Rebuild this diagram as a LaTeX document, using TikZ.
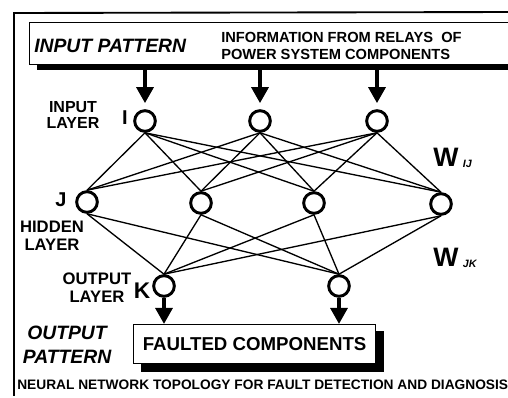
\documentclass[tikz,border=0pt]{standalone}
\usepackage{fontspec}
\setmainfont{Liberation Sans}
\usetikzlibrary{arrows.meta}
\begin{document}
\begin{tikzpicture}[x=0.75pt,y=-0.75pt,
  neuron/.style={circle,draw,line width=2.2pt,minimum size=15.5pt,inner sep=0pt},
  link/.style={line width=1pt},
  bigarrow/.style={line width=3pt,-{Triangle[length=12pt,width=12.5pt]}},
  lbl/.style={font=\bfseries\fontsize{12.5}{13.5}\selectfont,align=center,inner sep=0pt},
  letter/.style={font=\bfseries\fontsize{15}{15}\selectfont,inner sep=0pt},
  pattern/.style={font=\bfseries\itshape\fontsize{14.5}{18}\selectfont,inner sep=0pt},
  wlbl/.style={font=\bfseries\fontsize{20}{20}\selectfont,inner sep=0pt},
  boxstyle/.style={draw,line width=0.9pt,fill=white,inner sep=0pt}]
\useasboundingbox (0,0) rectangle (508,398);
\fill[white] (0,0) rectangle (508,398);
\clip (0,0) rectangle (508,398);
% outer frame
\draw[line width=1.4pt] (14,396) -- (14,13) -- (520,12);
% input pattern box
\fill (37,63) rectangle (520,70);
\node[boxstyle,anchor=north west,minimum width=380pt,minimum height=31.5pt] (inbox) at (29,22) {};
\coordinate (shb) at (0,68);
\node[pattern,anchor=west] (ip) at (34,46) {INPUT PATTERN};
\node[font=\bfseries\fontsize{11}{12.75}\selectfont,align=left,anchor=west,inner sep=0pt] (info) at (221,46) {INFORMATION FROM RELAYS\ \ OF\\POWER SYSTEM COMPONENTS};
% neurons
\node[neuron] (i1) at (145,121) {};
\node[neuron] (i2) at (260,121) {};
\node[neuron] (i3) at (377,121) {};
\node[neuron] (h1) at (87,202) {};
\node[neuron] (h2) at (201,203) {};
\node[neuron] (h3) at (314,203) {};
\node[neuron] (h4) at (441,204) {};
\node[neuron] (o1) at (164,286) {};
\node[neuron] (o2) at (339,286) {};
% connections
\foreach \i in {i1,i2,i3}{\foreach \h in {h1,h2,h3,h4}{\draw[link] (\i.south) -- (\h.north);}}
\foreach \h in {h1,h2,h3,h4}{\foreach \o in {o1,o2}{\draw[link] (\h.south) -- (\o.north);}}
% input arrows
\foreach \i in {i1,i2,i3}{\draw[bigarrow,shorten >=4.5pt] (\i |- shb) -- (\i.north);}
% output box
\fill (141,331) rectangle (384,372);
\node[boxstyle,anchor=north west,minimum width=181.5pt,minimum height=29.25pt] (outbox) at (133,324) {};
\node[font=\bfseries\fontsize{14}{14}\selectfont,inner sep=0pt] (fc) at (outbox.center) {FAULTED COMPONENTS};
% output arrows
\foreach \o in {o1,o2}{\draw[bigarrow] (\o.south) -- (\o |- outbox.north);}
% labels
\node[lbl,font=\bfseries\fontsize{12}{11.5}\selectfont] (ilayer) at (73,115) {INPUT\\LAYER};
\node[letter] (ilet) at (125,118) {I};
\node[letter] (jlet) at (61,200) {J};
\node[lbl] (hlayer) at (52,236) {HIDDEN\\LAYER};
\node[lbl] (olayer) at (97,288) {OUTPUT\\LAYER};
\node[letter,font=\bfseries\fontsize{17}{17}\selectfont] (klet) at (142,291) {K};
\node[pattern,align=center] (op) at (67,345) {OUTPUT\\PATTERN};
\node[wlbl,anchor=west] (wij) at (433,158) {W\,\raisebox{-1pt}{\fontsize{8}{8}\selectfont\itshape IJ}};
\node[wlbl,anchor=west] (wjk) at (433,258) {W\,\raisebox{-1pt}{\fontsize{8}{8}\selectfont\itshape JK}};
\node[font=\bfseries\fontsize{10.3}{10.3}\selectfont,anchor=west,inner sep=0pt] (cap) at (17,385) {NEURAL NETWORK TOPOLOGY FOR FAULT DETECTION AND DIAGNOSIS};
\end{tikzpicture}
\end{document}
